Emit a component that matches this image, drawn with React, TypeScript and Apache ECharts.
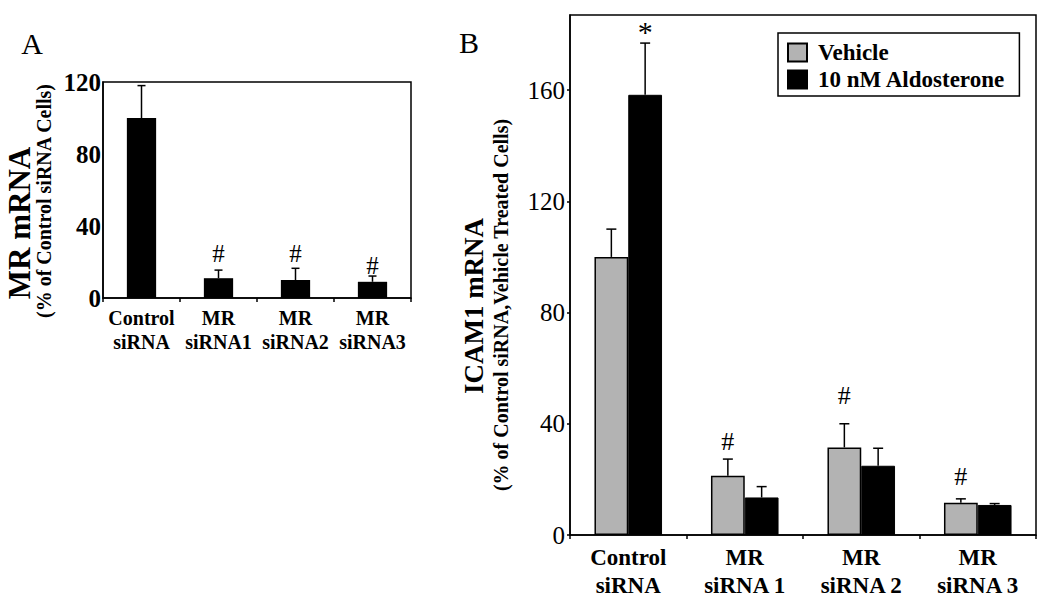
import React, { useEffect, useRef } from "react";
import * as echarts from "echarts";

// ---------- Data ----------
const categoriesA = ["Control\nsiRNA", "MR\nsiRNA1", "MR\nsiRNA2", "MR\nsiRNA3"];
const mrValues = [100, 11, 10, 9];
const mrSD = [18, 4.5, 6.5, 3.2];
const mrHash = [null, 25, 25, 18];
const ticksA = [0, 40, 80, 120];

const categoriesB = ["Control\nsiRNA", "MR\nsiRNA 1", "MR\nsiRNA 2", "MR\nsiRNA 3"];
const vehicleValues = [100, 21.3, 31.5, 11.6];
const vehicleSD = [10, 6, 8.5, 1.4];
const aldoValues = [158.3, 13.5, 24.9, 10.8];
const aldoSD = [18.6, 3.9, 6.3, 0.5];
const vehicleHash = [null, 33.6, 50, 21];
const aldoStar = [181, null, null, null];
const ticksB = [0, 40, 80, 120, 160];

const FONT = '"Liberation Serif", "Times New Roman", serif';
const BAR_W_A = 0.38;
const BAR_W_B = 0.29;

function errData(vals: number[], sd: number[]) {
  return vals.map((v, i) => [i, v, v + sd[i]]);
}
function markData(vals: (number | null)[]) {
  const out: number[][] = [];
  vals.forEach((v, i) => {
    if (v !== null) out.push([i, v]);
  });
  return out;
}

function errRender(offsetFactor: number, barW: number, cap: number) {
  return (params: any, api: any) => {
    const x = api.value(0);
    const v = api.value(1);
    const e = api.value(2);
    const p1 = api.coord([x, v]);
    const p2 = api.coord([x, e]);
    const band = api.size([1, 0])[0];
    const cx = p1[0] + offsetFactor * band * barW;
    const st = { stroke: "#000", lineWidth: 1.5 };
    return {
      type: "group",
      children: [
        { type: "line", shape: { x1: cx, y1: p1[1], x2: cx, y2: p2[1] }, style: st },
        { type: "line", shape: { x1: cx - cap, y1: p2[1], x2: cx + cap, y2: p2[1] }, style: st },
      ],
    };
  };
}

function textRender(text: string, offsetFactor: number, barW: number, size: number) {
  return (params: any, api: any) => {
    const x = api.value(0);
    const v = api.value(1);
    const p = api.coord([x, v]);
    const band = api.size([1, 0])[0];
    const cx = p[0] + offsetFactor * band * barW;
    return {
      type: "text",
      x: cx,
      y: p[1],
      style: {
        text,
        fill: "#000",
        fontSize: size,
        fontFamily: FONT,
        align: "center",
        verticalAlign: "middle",
      },
    };
  };
}

export default function App() {
  const ref = useRef<HTMLDivElement>(null);

  useEffect(() => {
    if (!ref.current) return;
    const chart = echarts.init(ref.current, undefined, { renderer: "svg" });

    const axisLine = { show: true, lineStyle: { color: "#000", width: 1.5 } };

    const option: any = {
      animation: false,
      backgroundColor: "#fff",
      textStyle: { fontFamily: FONT },
      grid: [
        { left: 103, top: 82, width: 308, height: 216, show: true, borderColor: "#000", borderWidth: 1.5, backgroundColor: "transparent" },
        { left: 570, top: 15, width: 466, height: 520, show: true, borderColor: "#000", borderWidth: 1.5, backgroundColor: "transparent" },
      ],
      xAxis: [
        {
          type: "category",
          gridIndex: 0,
          data: categoriesA,
          axisLine,
          axisTick: { show: true, length: 4, lineStyle: { color: "#000", width: 1.5 } },
          axisLabel: { color: "#000", fontFamily: FONT, fontWeight: "bold", fontSize: 20, lineHeight: 24, margin: 8, interval: 0 },
        },
        {
          type: "category",
          gridIndex: 1,
          data: categoriesB,
          axisLine,
          axisTick: { show: true, length: 4, lineStyle: { color: "#000", width: 1.5 } },
          axisLabel: { color: "#000", fontFamily: FONT, fontWeight: "bold", fontSize: 23, lineHeight: 28, margin: 8, interval: 0 },
        },
      ],
      yAxis: [
        {
          type: "value",
          gridIndex: 0,
          min: ticksA[0],
          max: ticksA[ticksA.length - 1],
          interval: 40,
          axisLine,
          axisTick: { show: false },
          splitLine: { show: false },
          axisLabel: { color: "#000", fontFamily: FONT, fontWeight: "bold", fontSize: 25, margin: 2 },
        },
        {
          type: "value",
          gridIndex: 1,
          min: ticksB[0],
          max: 187,
          interval: 40,
          axisLine,
          axisTick: { show: true, length: 3, lineStyle: { color: "#000", width: 1.5 } },
          splitLine: { show: false },
          axisLabel: {
            color: "#000",
            fontFamily: FONT,
            fontSize: 25,
            margin: 5,
            showMaxLabel: false,
            formatter: (v: number) => (ticksB.includes(v) ? String(v) : ""),
          },
        },
      ],
      legend: {
        orient: "vertical",
        left: 778,
        top: 33,
        width: 240,
        data: ["Vehicle", "10 nM Aldosterone"],
        borderColor: "#000",
        borderWidth: 1.5,
        padding: [8, 14, 5, 9],
        itemWidth: 19,
        itemHeight: 18,
        itemGap: 4,
        icon: "rect",
        textStyle: { color: "#000", fontFamily: FONT, fontWeight: "bold", fontSize: 23, lineHeight: 20, padding: [0, 0, 0, 6] },
      },
      graphic: [
        { type: "text", x: 32, y: 43, style: { text: "A", fontSize: 30, fontFamily: FONT, fill: "#000", align: "center", verticalAlign: "middle" } },
        { type: "text", x: 469, y: 42, style: { text: "B", fontSize: 30, fontFamily: FONT, fill: "#000", align: "center", verticalAlign: "middle" } },
        { type: "text", x: 19, y: 223, rotation: Math.PI / 2, style: { text: "MR mRNA", fontSize: 31, fontWeight: "bold", fontFamily: FONT, fill: "#000", align: "center", verticalAlign: "middle" } },
        { type: "text", x: 44, y: 201, rotation: Math.PI / 2, style: { text: "(% of Control siRNA Cells)", fontSize: 20, fontWeight: "bold", fontFamily: FONT, fill: "#000", align: "center", verticalAlign: "middle" } },
        { type: "text", x: 474, y: 306, rotation: Math.PI / 2, style: { text: "ICAM1 mRNA", fontSize: 27, fontWeight: "bold", fontFamily: FONT, fill: "#000", align: "center", verticalAlign: "middle" } },
        { type: "text", x: 501, y: 305, rotation: Math.PI / 2, style: { text: "(% of Control siRNA,Vehicle Treated Cells)", fontSize: 20, fontWeight: "bold", fontFamily: FONT, fill: "#000", align: "center", verticalAlign: "middle" } },
      ],
      series: [
        {
          name: "MR",
          type: "bar",
          xAxisIndex: 0,
          yAxisIndex: 0,
          data: mrValues,
          barWidth: BAR_W_A * 100 + "%",
          itemStyle: { color: "#000" },
        },
        {
          type: "custom",
          xAxisIndex: 0,
          yAxisIndex: 0,
          data: errData(mrValues, mrSD),
          encode: { x: 0, y: [1, 2] },
          renderItem: errRender(0, BAR_W_A, 4),
          z: 3,
        },
        {
          type: "custom",
          xAxisIndex: 0,
          yAxisIndex: 0,
          data: markData(mrHash),
          encode: { x: 0, y: 1 },
          renderItem: textRender("#", 0, BAR_W_A, 25),
        },
        {
          name: "Vehicle",
          type: "bar",
          xAxisIndex: 1,
          yAxisIndex: 1,
          data: vehicleValues,
          barWidth: BAR_W_B * 100 + "%",
          barGap: "0%",
          itemStyle: { color: "#b3b3b3", borderColor: "#000", borderWidth: 1.5 },
        },
        {
          name: "10 nM Aldosterone",
          type: "bar",
          xAxisIndex: 1,
          yAxisIndex: 1,
          data: aldoValues,
          barWidth: BAR_W_B * 100 + "%",
          barGap: "0%",
          itemStyle: { color: "#000", borderColor: "#000", borderWidth: 1 },
        },
        {
          type: "custom",
          xAxisIndex: 1,
          yAxisIndex: 1,
          data: errData(vehicleValues, vehicleSD),
          encode: { x: 0, y: [1, 2] },
          renderItem: errRender(-0.5, BAR_W_B, 5),
          z: 3,
        },
        {
          type: "custom",
          xAxisIndex: 1,
          yAxisIndex: 1,
          data: errData(aldoValues, aldoSD),
          encode: { x: 0, y: [1, 2] },
          renderItem: errRender(0.5, BAR_W_B, 5),
          z: 3,
        },
        {
          type: "custom",
          xAxisIndex: 1,
          yAxisIndex: 1,
          data: markData(vehicleHash),
          encode: { x: 0, y: 1 },
          renderItem: textRender("#", -0.5, BAR_W_B, 26),
        },
        {
          type: "custom",
          xAxisIndex: 1,
          yAxisIndex: 1,
          data: markData(aldoStar),
          encode: { x: 0, y: 1 },
          renderItem: textRender("*", 0.5, BAR_W_B, 30),
        },
      ],
    };

    chart.setOption(option);
    return () => chart.dispose();
  }, []);

  return (
    <div
      ref={ref}
      style={{ position: "fixed", left: 0, top: 0, width: 1050, height: 606, background: "#fff" }}
    />
  );
}
